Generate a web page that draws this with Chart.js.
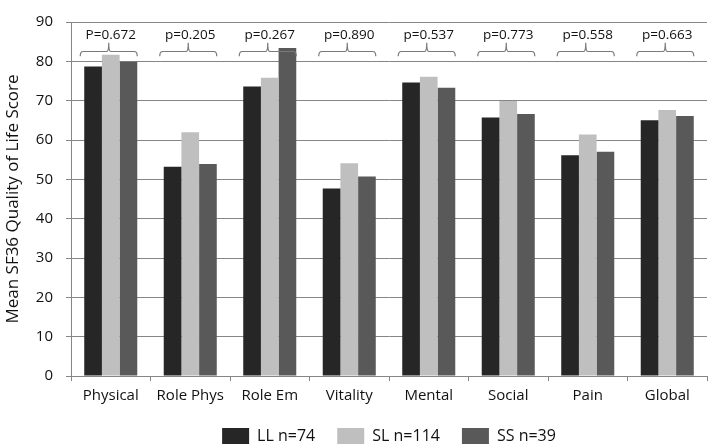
<!DOCTYPE html>
<html>
<head>
<meta charset="utf-8">
<script src="https://cdn.jsdelivr.net/npm/chart.js@4"></script>
<style>
html,body{margin:0;padding:0;background:#fff;}
#wrap{width:709px;height:444px;position:relative;}
</style>
</head>
<body>
<div id="wrap"><canvas id="c" width="709" height="444"></canvas></div>
<script>
const categories = ['Physical', 'Role Phys', 'Role Em', 'Vitality', 'Mental', 'Social', 'Pain', 'Global'];
const seriesLabels = ['LL n=74', 'SL n=114', 'SS n=39'];
const llValues = [78.7, 53.2, 73.6, 47.7, 74.6, 65.7, 56.1, 65.0];
const slValues = [81.7, 62.0, 75.8, 54.1, 76.1, 69.9, 61.4, 67.6];
const ssValues = [79.9, 53.9, 83.4, 50.7, 73.3, 66.6, 57.0, 66.1];
const pLabels = ['P=0.672', 'p=0.205', 'p=0.267', 'p=0.890', 'p=0.537', 'p=0.773', 'p=0.558', 'p=0.663'];
const yTicks = [0, 10, 20, 30, 40, 50, 60, 70, 80, 90];

const FONT = "'Open Sans', sans-serif";
const GRID = '#868686';

const bracketPlugin = {
  id: 'brackets',
  afterDatasetsDraw(chart) {
    const ctx = chart.ctx;
    const ys = chart.scales.y;
    const xs = chart.scales.x;
    const m0 = chart.getDatasetMeta(0), m2 = chart.getDatasetMeta(2);
    const yl = ys.getPixelForValue(82.5);
    const ye = ys.getPixelForValue(81.3);
    const yt = ys.getPixelForValue(84.7);
    const yTxt = ys.getPixelForValue(85.6);
    ctx.save();
    ctx.strokeStyle = '#7a7a7a';
    ctx.lineWidth = 1.2;
    ctx.fillStyle = '#111';
    ctx.font = "13.5px " + FONT;
    ctx.textAlign = 'center';
    ctx.textBaseline = 'alphabetic';
    categories.forEach((c, i) => {
      const b0 = m0.data[i], b2 = m2.data[i];
      const l = b0.x - b0.width / 2 - 4;
      const r = b2.x + b2.width / 2;
      const mid = (l + r) / 2;
      ctx.beginPath();
      ctx.moveTo(l, ye);
      ctx.quadraticCurveTo(l, yl, l + 3, yl);
      ctx.lineTo(mid - 2, yl);
      ctx.quadraticCurveTo(mid, yl, mid, yt);
      ctx.quadraticCurveTo(mid, yl, mid + 2, yl);
      ctx.lineTo(r - 3, yl);
      ctx.quadraticCurveTo(r, yl, r, ye);
      ctx.stroke();
      ctx.fillText(pLabels[i], xs.getPixelForValue(i), yTxt);
    });
    ctx.restore();
  }
};

new Chart(document.getElementById('c'), {
  type: 'bar',
  data: {
    labels: categories,
    datasets: [
      { label: seriesLabels[0], data: llValues, backgroundColor: '#262626' },
      { label: seriesLabels[1], data: slValues, backgroundColor: '#bfbfbf' },
      { label: seriesLabels[2], data: ssValues, backgroundColor: '#595959' }
    ]
  },
  options: {
    responsive: false,
    animation: false,
    devicePixelRatio: 1,
    layout: { padding: { left: 0, right: 2, top: 7, bottom: -11 } },
    datasets: { bar: { categoryPercentage: 0.667, barPercentage: 1.0, borderWidth: 0 } },
    plugins: {
      tooltip: { enabled: false },
      legend: {
        position: 'bottom',
        fullSize: false,
        labels: {
          boxWidth: 27,
          boxHeight: 17,
          padding: 22,
          color: '#111',
          font: { family: FONT, size: 16 }
        }
      }
    },
    scales: {
      x: {
        grid: { offset: true, drawOnChartArea: false, color: GRID, tickLength: 5, tickColor: GRID },
        border: { color: GRID, width: 1 },
        ticks: { color: '#111', font: { family: FONT, size: 15 }, padding: 6, maxRotation: 0 },
        afterFit(scale) { scale.height = 30; }
      },
      y: {
        min: 0,
        max: 90,
        afterBuildTicks(scale) { scale.ticks = yTicks.map(v => ({ value: v })); },
        grid: { color: GRID, tickLength: 5, tickColor: GRID },
        border: { color: GRID, width: 1 },
        ticks: { color: '#111', font: { family: FONT, size: 15 }, padding: 13 },
        title: {
          display: true,
          text: 'Mean SF36 Quality of Life Score',
          color: '#111',
          font: { family: FONT, size: 17 },
          padding: { top: 3, bottom: 0 }
        },
        afterFit(scale) { scale.width = 71; }
      }
    }
  },
  plugins: [bracketPlugin]
});
</script>
</body>
</html>
